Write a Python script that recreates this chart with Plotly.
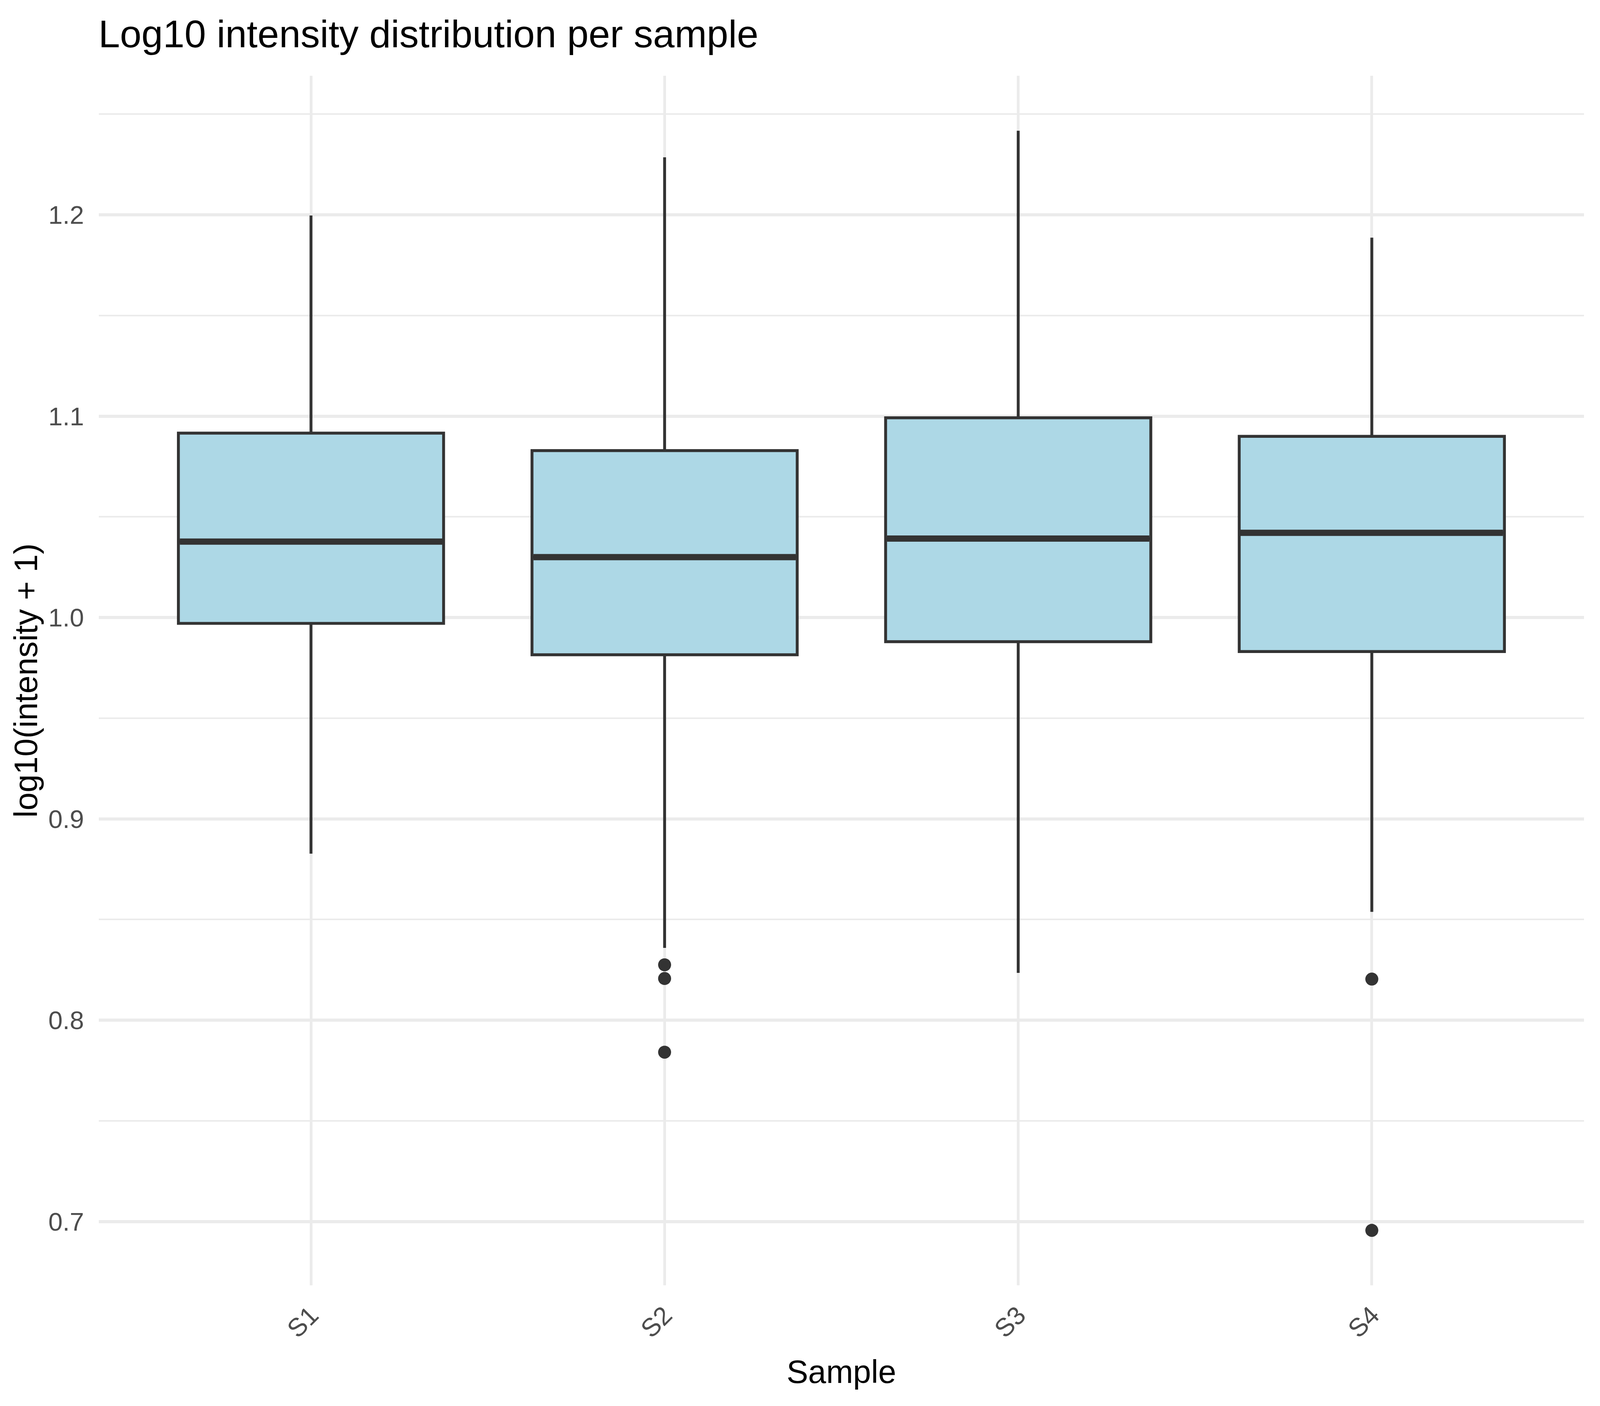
import plotly.graph_objects as go

# box statistics
samples = ["S1", "S2", "S3", "S4"]
q1 = [0.9971, 0.9815, 0.9880, 0.9831]
median = [1.0377, 1.0300, 1.0392, 1.0421]
q3 = [1.0916, 1.0829, 1.0992, 1.0900]
lower_whisker = [0.8827, 0.8359, 0.8235, 0.8538]
upper_whisker = [1.1997, 1.2286, 1.2418, 1.1887]

outlier_sample = ["S2", "S2", "S2", "S4", "S4"]
outlier_value = [0.8275, 0.8207, 0.7841, 0.8204, 0.6956]

# the page shows up as 4096 x 3600 css px, body keeps its 8px margin
SX = 4096 / 4800
F = 0.9  # text / marker scale
OFF = 8


def px(v):
    return v * SX - OFF


def py(v):
    return v - OFF


W, H = 4080, 3584
dark = "#333333"
grid = "#EBEBEB"
font_family = "Liberation Sans, Arial, sans-serif"

fig = go.Figure()

# main boxes
fig.add_trace(go.Box(
    x=samples, q1=q1, median=median, q3=q3,
    lowerfence=lower_whisker, upperfence=upper_whisker,
    width=0.75, whiskerwidth=0,
    fillcolor="#ADD8E6",
    line=dict(color=dark, width=7.4),
    boxpoints=False, showlegend=False, hoverinfo="skip",
))

# thicker median bar (ggplot draws it twice as wide)
fig.add_trace(go.Box(
    x=samples, q1=median, median=median, q3=median,
    lowerfence=median, upperfence=median,
    width=0.75 - 0.008, whiskerwidth=0,
    fillcolor="rgba(0,0,0,0)",
    line=dict(color=dark, width=16),
    boxpoints=False, showlegend=False, hoverinfo="skip",
))

# outliers
fig.add_trace(go.Scatter(
    x=outlier_sample, y=outlier_value, mode="markers",
    marker=dict(color=dark, size=37 * F, line=dict(width=0)),
    showlegend=False, hoverinfo="skip",
))

fig.update_layout(
    width=W, height=H,
    boxmode="overlay",
    plot_bgcolor="white", paper_bgcolor="white",
    margin=dict(l=px(297), r=W - px(4752), t=py(193.6), b=H - py(3290.7), pad=0),
    font=dict(family=font_family, color="black"),
    title=dict(
        text="Log10 intensity distribution per sample",
        font=dict(size=110 * F, color="black", family=font_family),
        x=244 / W, xanchor="left", xref="container",
        y=1 - 44 / H, yanchor="top", yref="container",
    ),
)

fig.update_xaxes(
    type="category", categoryorder="array", categoryarray=samples,
    range=[-0.6, 3.6],
    showgrid=True, gridcolor=grid, gridwidth=6.6,
    showline=False, zeroline=False, ticks="",
    tickangle=-45, ticklabelstandoff=24,
    tickfont=dict(size=73 * F, color="#4D4D4D", family=font_family),
    title=dict(text="Sample", font=dict(size=92 * F, color="black", family=font_family), standoff=45),
)

fig.update_yaxes(
    range=[0.6683, 1.2691],
    tickvals=[0.7, 0.8, 0.9, 1.0, 1.1, 1.2], tickformat=".1f",
    showgrid=True, gridcolor=grid, gridwidth=7.7,
    minor=dict(tickvals=[0.75, 0.85, 0.95, 1.05, 1.15, 1.25], showgrid=True,
               gridcolor=grid, gridwidth=3.85, ticks=""),
    showline=False, zeroline=False, ticks="",
    ticklabelstandoff=37,
    tickfont=dict(size=73 * F, color="#4D4D4D", family=font_family),
    title=dict(text="log10(intensity + 1)", font=dict(size=92 * F, color="black", family=font_family), standoff=0),
)

fig.write_html("out.html")
